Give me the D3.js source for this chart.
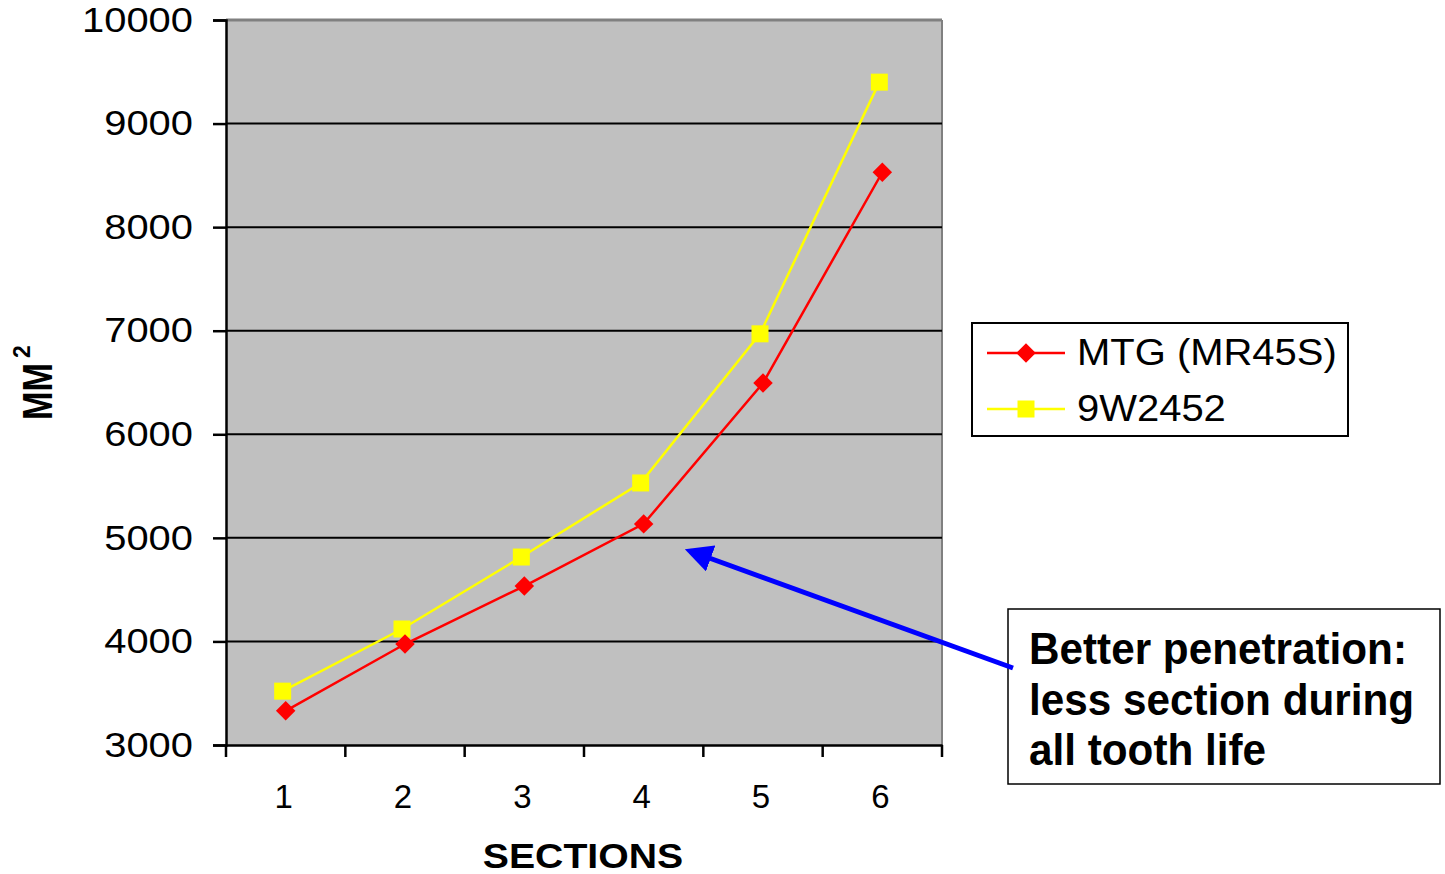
<!DOCTYPE html>
<html><head><meta charset="utf-8">
<script src="https://cdn.jsdelivr.net/npm/d3@7/dist/d3.min.js"></script>
<style>body{margin:0;background:#fff}svg{display:block}text{font-family:"Liberation Sans",Arial,sans-serif}</style>
</head><body>
<svg id="c" width="1445" height="874"></svg>
<script>
const categories = ["1","2","3","4","5","6"];
const mtgValues = [3330, 3975, 4535, 5135, 6495, 8530];
const w9Values = [3520, 4120, 4815, 5530, 6970, 9400];
const yTicks = [3000,4000,5000,6000,7000,8000,9000,10000];
const seriesNames = ["MTG (MR45S)", "9W2452"];
const noteLines = ["Better penetration:", "less section during", "all tooth life"];

const svg = d3.select("#c");
const L=226, R=942, T=20, B=745;
const x = d3.scaleBand().domain(categories).range([L,R]);
const y = d3.scaleLinear().domain([3000,10000]).range([B,T]);
const FF = "Liberation Sans, Arial, sans-serif";

function stretch(sel,k){
  sel.each(function(){
    const w=this.getComputedTextLength();
    d3.select(this).attr("textLength",w*k).attr("lengthAdjust","spacingAndGlyphs");
  });
}

// plot bg
svg.append("rect").attr("x",L).attr("y",T).attr("width",R-L).attr("height",B-T).attr("fill","#C0C0C0");
svg.append("line").attr("x1",L).attr("x2",R).attr("y1",T).attr("y2",T).attr("stroke","#808080").attr("stroke-width",3);
svg.append("line").attr("x1",R).attr("x2",R).attr("y1",T).attr("y2",B).attr("stroke","#808080").attr("stroke-width",2);

// gridlines
svg.append("g").selectAll("line").data(yTicks.filter(d=>d>3000&&d<10000)).join("line")
  .attr("x1",L).attr("x2",R).attr("y1",d=>y(d)).attr("y2",d=>y(d)).attr("stroke","#000").attr("stroke-width",2);

// y axis
const ya = svg.append("g").attr("transform",`translate(${L},0)`)
  .call(d3.axisLeft(y).tickValues(yTicks).tickSize(13).tickPadding(20).tickFormat(d3.format("d")));
ya.select(".domain").attr("stroke","#000").attr("stroke-width",2.5);
ya.selectAll(".tick line").attr("stroke","#000").attr("stroke-width",2.5);
ya.selectAll("text").attr("font-size",35).attr("fill","#000").attr("font-family",FF).call(stretch,1.14);

// x axis
const xa = svg.append("g").attr("transform",`translate(0,${B})`)
  .call(d3.axisBottom(x).tickSize(0).tickPadding(40));
xa.select(".domain").attr("stroke","#000").attr("stroke-width",2.5);
xa.selectAll("text").attr("font-size",33).attr("fill","#000").attr("font-family",FF).attr("dx",-2).attr("dy","0.7em");
const bounds = categories.map(c=>x(c)).concat([R]);
svg.append("g").selectAll("line").data(bounds).join("line")
  .attr("x1",d=>d).attr("x2",d=>d).attr("y1",B).attr("y2",B+12).attr("stroke","#000").attr("stroke-width",2.5);

const cx = c => x(c)+x.bandwidth()/2;

// yellow series
svg.append("path").datum(w9Values).attr("d",d3.line().x((d,i)=>cx(categories[i])-3).y(d=>y(d)))
  .attr("fill","none").attr("stroke","#FFFF00").attr("stroke-width",2.5);
svg.append("g").selectAll("rect").data(w9Values).join("rect")
  .attr("x",(d,i)=>cx(categories[i])-3-8.5).attr("y",d=>y(d)-8.5).attr("width",17).attr("height",17).attr("fill","#FFFF00");

// red series
svg.append("path").datum(mtgValues).attr("d",d3.line().x((d,i)=>cx(categories[i])).y(d=>y(d)))
  .attr("fill","none").attr("stroke","#FF0000").attr("stroke-width",2.5);
svg.append("g").selectAll("path").data(mtgValues).join("path")
  .attr("d",d3.symbol(d3.symbolSquare,190)())
  .attr("transform",(d,i)=>`translate(${cx(categories[i])},${y(d)}) rotate(45)`).attr("fill","#FF0000");

// axis titles
svg.append("text").attr("transform","translate(52,420) rotate(-90)").attr("text-anchor","start")
  .attr("font-size",42).attr("font-weight","bold").attr("textLength",57).attr("lengthAdjust","spacingAndGlyphs").text("MM");
svg.append("text").attr("transform","translate(30,358) rotate(-90)").attr("text-anchor","start")
  .attr("font-size",23).attr("font-weight","bold").text("2");
svg.append("text").attr("x",583).attr("y",868).attr("text-anchor","middle")
  .attr("font-size",35).attr("font-weight","bold").text("SECTIONS").call(stretch,1.12);

// legend
svg.append("rect").attr("x",972).attr("y",323).attr("width",376).attr("height",113).attr("fill","#fff").attr("stroke","#000").attr("stroke-width",2);
const lg = [{n:seriesNames[0],c:"#FF0000",t:"d",y:353},{n:seriesNames[1],c:"#FFFF00",t:"s",y:409}];
lg.forEach(e=>{
  svg.append("line").attr("x1",987).attr("x2",1065).attr("y1",e.y).attr("y2",e.y).attr("stroke",e.c).attr("stroke-width",2.5);
  if(e.t==="d") svg.append("path").attr("d",d3.symbol(d3.symbolSquare,190)()).attr("transform",`translate(1026,${e.y}) rotate(45)`).attr("fill",e.c);
  else svg.append("rect").attr("x",1017.5).attr("y",e.y-8.5).attr("width",17).attr("height",17).attr("fill",e.c);
  svg.append("text").attr("x",1077).attr("y",e.y+12).attr("font-size",36).attr("fill","#000").text(e.n).call(stretch,1.11);
});

// annotation box
svg.append("rect").attr("x",1008).attr("y",609).attr("width",432).attr("height",175).attr("fill","#fff").attr("stroke","#000").attr("stroke-width",1.5);
const nt = svg.append("g").selectAll("text").data(noteLines).join("text")
  .attr("x",1029).attr("y",(d,i)=>664+i*50.5).attr("font-size",44).attr("font-weight","bold").attr("fill","#000").text(d=>d);
const w0 = nt.node().getComputedTextLength();
stretch(nt, 378/w0);

// arrow
svg.append("defs").append("marker").attr("id","ah").attr("viewBox","0 0 10 10").attr("refX",8).attr("refY",5)
  .attr("markerWidth",5.5).attr("markerHeight",5.5).attr("markerUnits","strokeWidth").attr("orient","auto")
  .append("path").attr("d","M0,0 L10,5 L0,10 z").attr("fill","#0000FF");
svg.append("line").attr("x1",1013).attr("y1",668).attr("x2",690).attr("y2",551).attr("stroke","#0000FF").attr("stroke-width",5).attr("marker-end","url(#ah)");
</script>
</body></html>
